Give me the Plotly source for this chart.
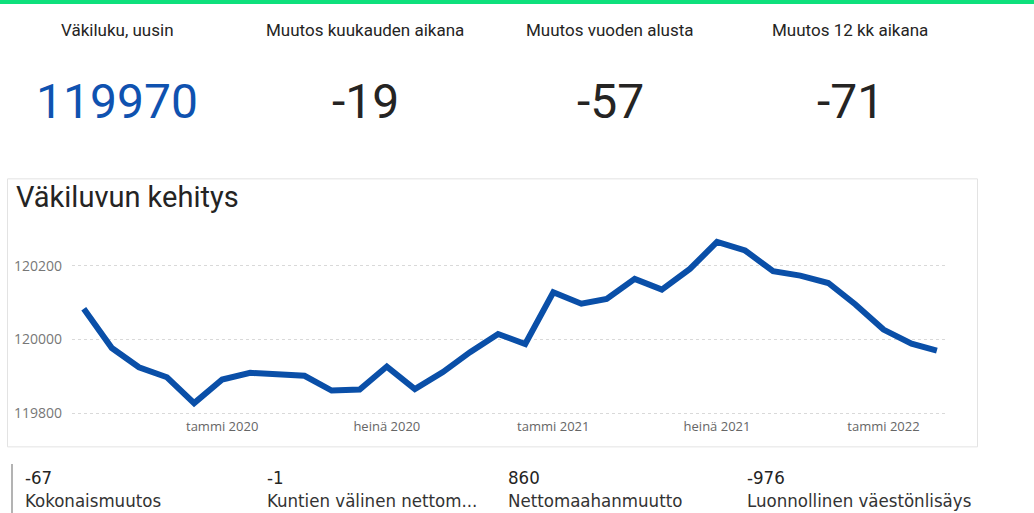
import plotly.graph_objects as go

W, H = 1034, 513
FIG_H = 520  # the page gets squeezed a little vertically when photographed

# monthly population (Väkiluku), Aug 2019 .. Mar 2022
months = ['2019-08-01', '2019-09-01', '2019-10-01', '2019-11-01', '2019-12-01',
          '2020-01-01', '2020-02-01', '2020-03-01', '2020-04-01', '2020-05-01', '2020-06-01',
          '2020-07-01', '2020-08-01', '2020-09-01', '2020-10-01', '2020-11-01', '2020-12-01',
          '2021-01-01', '2021-02-01', '2021-03-01', '2021-04-01', '2021-05-01', '2021-06-01',
          '2021-07-01', '2021-08-01', '2021-09-01', '2021-10-01', '2021-11-01', '2021-12-01',
          '2022-01-01', '2022-02-01', '2022-03-01']
population = [120083, 119977, 119925, 119898, 119828,
              119892, 119910, 119905, 119902, 119862, 119865,
              119927, 119866, 119912, 119966, 120015, 119988,
              120128, 120097, 120110, 120164, 120135, 120191,
              120264, 120241, 120185, 120173, 120153, 120095,
              120027, 119989, 119970]

tick_dates = ['2020-01-01', '2020-07-01', '2021-01-01', '2021-07-01', '2022-01-01']
tick_labels = ['tammi 2020', 'heinä 2020', 'tammi 2021', 'heinä 2021', 'tammi 2022']
y_ticks = [119800, 120000, 120200]

kpi_titles = ['Väkiluku, uusin', 'Muutos kuukauden aikana', 'Muutos vuoden alusta', 'Muutos 12 kk aikana']
kpi_values = ['119970', '-19', '-57', '-71']

bottom_values = ['-67', '-1', '860', '-976']
bottom_labels = ['Kokonaismuutos', 'Kuntien välinen nettom...', 'Nettomaahanmuutto',
                 'Luonnollinen väestönlisäys']


def px(x):
    return x / W


def py(y):
    return 1 - y / H


DIN = 'Roboto, sans-serif'
SEGOE = 'Open Sans, Noto Sans, sans-serif'
NARROW = 'Liberation Sans Narrow, DejaVu Sans Condensed, Roboto, sans-serif'

fig = go.Figure()
fig.add_trace(go.Scatter(
    x=months, y=population, mode='lines',
    line=dict(color='#0a4fa8', width=6),
    hoverinfo='skip', showlegend=False))

fig.update_layout(
    width=W, height=FIG_H,
    margin=dict(l=0, r=0, t=0, b=0),
    paper_bgcolor='white', plot_bgcolor='white',
    xaxis=dict(
        domain=[px(72), px(945)],
        range=['2019-07-19', '2022-03-10'],
        tickvals=tick_dates, ticktext=tick_labels,
        showgrid=False, zeroline=False, showline=False,
        tickfont=dict(family=SEGOE, size=13, color='#666666')),
    yaxis=dict(
        domain=[py(416), py(226)],
        range=[119791, 120306],
        tickvals=y_ticks, ticktext=[str(v) for v in y_ticks],
        showgrid=True, gridcolor='#d9d9d9', griddash='dot', gridwidth=1,
        zeroline=False, showline=False, ticklabelstandoff=9,
        tickfont=dict(family=SEGOE, size=14, color='#777777')),
)

shapes = [
    # green top bar
    dict(type='rect', xref='paper', yref='paper', x0=0, x1=1, y0=py(4), y1=1,
         fillcolor='#0ee07c', line=dict(width=0)),
    # chart card border
    dict(type='rect', xref='paper', yref='paper', x0=px(7.5), x1=px(977.5), y0=py(446), y1=py(178.5),
         fillcolor='rgba(0,0,0,0)', line=dict(color='#e3e3e3', width=1), layer='below'),
    # left accent line of the bottom card
    dict(type='line', xref='paper', yref='paper', x0=px(12), x1=px(12), y0=py(463), y1=0,
         line=dict(color='#b3b3b3', width=2)),
]
fig.update_layout(shapes=shapes)

kpi_x = [117, 365, 610, 850]
for cx, title, val, color in zip(kpi_x, kpi_titles, kpi_values,
                                 ['#0f52b0', '#252423', '#252423', '#252423']):
    fig.add_annotation(x=px(cx), y=py(30), xref='paper', yref='paper', text=title,
                       showarrow=False, xanchor='center', yanchor='middle',
                       font=dict(family=DIN, size=17, color='#252423'))
    fig.add_annotation(x=px(cx), y=py(101), xref='paper', yref='paper', text=val,
                       showarrow=False, xanchor='center', yanchor='middle',
                       font=dict(family=DIN, size=48, color=color))

fig.add_annotation(x=px(14), y=py(197), xref='paper', yref='paper', text='Väkiluvun kehitys',
                   showarrow=False, xanchor='left', yanchor='middle',
                   font=dict(family=DIN, size=29, color='#252423'))

bottom_x = [23, 265, 506, 745]
for bx, val, lab in zip(bottom_x, bottom_values, bottom_labels):
    fig.add_annotation(x=px(bx), y=py(477), xref='paper', yref='paper', text=val,
                       showarrow=False, xanchor='left', yanchor='middle',
                       font=dict(family=NARROW, size=18.5, color='#252423'))
    fig.add_annotation(x=px(bx), y=py(500), xref='paper', yref='paper', text=lab,
                       showarrow=False, xanchor='left', yanchor='middle',
                       font=dict(family=NARROW, size=18.5, color='#333333'))

# no page margin / scrolling, so the figure fills the window exactly
page_js = ("document.documentElement.style.overflow='hidden';"
           "document.body.style.margin='0';"
           "document.body.style.overflow='hidden';")
fig.write_html("out.html", post_script=page_js, config={'displayModeBar': False})
